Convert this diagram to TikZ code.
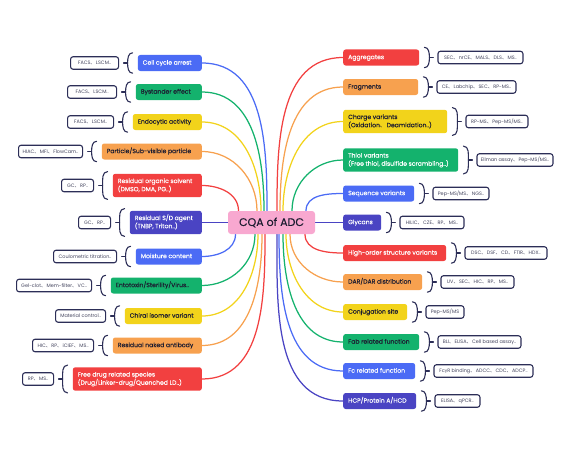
\documentclass[tikz,border=0pt]{standalone}
\usepackage{fontspec}
\setmainfont{Poppins}
\newfontfamily\medf{Poppins}[FakeBold=0.2]
\newfontfamily\cjkf{Noto Sans CJK SC}
\newfontfamily\gkf{Lato}
\usetikzlibrary{backgrounds}
\definecolor{cblue}{HTML}{4B6BF5}
\definecolor{cgreen}{HTML}{14B26D}
\definecolor{cyellow}{HTML}{F2D31B}
\definecolor{corange}{HTML}{F7A14F}
\definecolor{cred}{HTML}{F24040}
\definecolor{cindigo}{HTML}{4A44C3}
\definecolor{cpink}{HTML}{F8A8D0}
\definecolor{cnavy}{HTML}{2C2E57}
\definecolor{cdark}{HTML}{1C1C30}
\definecolor{clbl}{HTML}{45465F}
\newcommand\dn{{\cjkf 、}\hspace{0.6pt}}
\newcommand\itemtext[2]{\makebox[\dimexpr#1pt-10pt\relax][l]{\begin{tabular}{@{}l@{}}#2\end{tabular}}}
\tikzset{
  item/.style={rounded corners=2.5pt, inner xsep=5pt, inner ysep=3.5pt, minimum height=16pt,
    font=\medf\fontsize{6.1}{8.2}\selectfont},
  lbl/.style={draw=cnavy, line width=1.1pt, rounded corners=2.5pt, fill=white, text=clbl,
    inner xsep=2pt, inner ysep=1pt, minimum height=12.5pt, font=\fontsize{4.9}{5.5}\selectfont},
  brk/.style={draw=cnavy, line width=1.1pt, line cap=round},
  conn/.style={line width=1.25pt},
}
% name, y, width, fill, text colour, text, label, label width
\newcommand\leftitem[8]{%
  \node[item, fill=#4, text=#5, anchor=east] (#1) at (202,#2) {\itemtext{#3}{#6}};
  \coordinate (#1b) at ([xshift=-10pt]#1.west);
  \draw[brk] ([xshift=-5pt,yshift=2pt]#1.north west) to[out=180,in=90] (#1b)
    to[out=-90,in=180] ([xshift=-5pt,yshift=-2pt]#1.south west);
  \node[lbl, minimum width=#8pt, anchor=east] (#1l) at ([xshift=-18.5pt]#1.west) {#7};
  \draw[brk, shorten >=4.5pt] (#1b) -- (#1l.east);
}
\newcommand\rightitem[8]{%
  \node[item, fill=#4, text=#5, anchor=west] (#1) at (343,#2) {\itemtext{#3}{#6}};
  \coordinate (#1b) at ([xshift=10pt]#1.east);
  \draw[brk] ([xshift=5pt,yshift=2pt]#1.north east) to[out=0,in=90] (#1b)
    to[out=-90,in=0] ([xshift=5pt,yshift=-2pt]#1.south east);
  \node[lbl, minimum width=#8pt, anchor=west] (#1l) at ([xshift=18pt]#1.east) {#7};
  \draw[brk, shorten >=4pt] (#1b) -- (#1l.west);
}
\begin{document}
\begin{tikzpicture}[x=1pt,y=-1pt]
\useasboundingbox (0,0) rectangle (564,452);

\node[fill=cpink, rounded corners=3pt, minimum width=87pt, minimum height=23pt,
  font=\medf\fontsize{11}{13}\selectfont, text=cdark] (c) at (271.5,222.5) {CQA of ADC};

\leftitem{cca}{63}{64}{cblue}{white}{Cell cycle arrest}{FACS\dn LSCM..}{48}
\leftitem{bys}{92}{66}{cgreen}{cdark}{Bystander effect}{FACS\dn LSCM..}{49}
\leftitem{endo}{122}{69}{cyellow}{cdark}{Endocytic activity}{FACS\dn LSCM..}{46}
\leftitem{part}{151.5}{100}{corange}{cdark}{Particle/Sub-visible particle}{HIAC\dn MFI\dn FlowCam..}{64}
\leftitem{ros}{185.5}{89}{cred}{white}{Residual organic solvent\\(DMSO, DMA, PG..)}{GC\dn RP..}{32}
\leftitem{rsd}{222.5}{72}{cindigo}{white}{Residual S/D agent\\(TNBP, Triton..)}{GC\dn RP..}{32}
\leftitem{moi}{256.5}{66}{cblue}{white}{Moisture content}{Coulometric titration..}{63}
\leftitem{ent}{285.5}{91}{cgreen}{cdark}{Entotoxin/Sterility/Virus..}{Gel-clot\dn Mem-filter\dn VC..}{75}
\leftitem{chi}{316}{77}{cyellow}{cdark}{Chiral isomer variant}{Material control..}{50}
\leftitem{rna}{345.5}{89}{corange}{cdark}{Residual naked antibody}{HIC\dn RP\dn iCIEF\dn MS..}{61}
\leftitem{fdr}{379}{129}{cred}{white}{Free drug related species\\(Drug/Linker-drug/Quenched LD..)}{RP\dn MS..}{31}

\rightitem{agg}{57.5}{76}{cred}{white}{Aggregates}{SEC\dn nrCE\dn MALS\dn DLS\dn MS..}{85}
\rightitem{frag}{87}{75}{corange}{cdark}{Fragments}{CE\dn Labchip\dn SEC\dn RP-MS..}{79}
\rightitem{chg}{121.5}{104}{cyellow}{cdark}{Charge variants\\(Oxidation\dn Deamidation..)}{RP-MS\dn Pep-MS/MS..}{62}
\rightitem{thi}{160}{115}{cgreen}{white}{Thiol variants\\(Free thiol, disulfide scrambling..)}{Ellman assay\dn Pep-MS/MS..}{76}
\rightitem{seq}{193.5}{71}{cblue}{white}{Sequence variants}{Pep-MS/MS\dn NGS..}{56}
\rightitem{gly}{222.5}{38}{cindigo}{white}{Glycans}{HILIC\dn CZE\dn RP\dn MS..}{64}
\rightitem{hos}{253}{103}{cred}{white}{High-order structure variants}{DSC\dn DSF\dn CD\dn FTIR\dn HDX..}{82}
\rightitem{dar}{282}{79}{corange}{cdark}{DAR/DAR distribution}{UV\dn SEC\dn HIC\dn RP\dn MS..}{73}
\rightitem{con}{312}{64}{cyellow}{cdark}{Conjugation site}{Pep-MS/MS}{38}
\rightitem{fab}{342}{76}{cgreen}{cdark}{Fab related function}{BLI\dn ELISA\dn Cell based assay..}{83}
\rightitem{fc}{371}{72}{cblue}{white}{Fc related function}{Fc{\gkf γ}R binding\dn ADCC\dn CDC\dn ADCP..}{99}
\rightitem{hcp}{401}{73}{cindigo}{white}{HCP/Protein A/HCD}{ELISA\dn qPCR..}{45}

\begin{pgfonlayer}{background}
% left, into top
\draw[conn, cblue]   (cca.east)  to[out=0,in=90] ([xshift=-4.5pt]c.north);
\draw[conn, cgreen]  (bys.east)  to[out=0,in=90] ([xshift=-7.5pt]c.north);
\draw[conn, cyellow] (endo.east) to[out=0,in=90] ([xshift=-10.5pt]c.north);
\draw[conn, corange] (part.east) to[out=0,in=90] ([xshift=-14.5pt]c.north);
\draw[conn, cred]    (ros.east)  to[out=0,in=90] ([xshift=-33pt]c.north);
\draw[conn, cindigo] (rsd.east) -- (c.west);
% left, into bottom
\draw[conn, cblue]   (moi.east)  to[out=0,in=-90] ([xshift=-36pt]c.south);
\draw[conn, cgreen]  (ent.east)  to[out=0,in=-90] ([xshift=-16.5pt]c.south);
\draw[conn, cyellow] (chi.east)  to[out=0,in=-90] ([xshift=-13.5pt]c.south);
\draw[conn, corange] (rna.east)  to[out=0,in=-90] ([xshift=-9.5pt]c.south);
\draw[conn, cred]    (fdr.east)  to[out=0,in=-90] ([xshift=-6.5pt]c.south);
% right, into top
\draw[conn, cred]    (agg.west)  to[out=180,in=90] ([xshift=5.5pt]c.north);
\draw[conn, corange] (frag.west) to[out=180,in=90] ([xshift=8.5pt]c.north);
\draw[conn, cyellow] (chg.west)  to[out=180,in=90] ([xshift=11.5pt]c.north);
\draw[conn, cgreen]  (thi.west)  to[out=180,in=90] ([xshift=20.5pt]c.north);
\draw[conn, cblue]   (seq.west)  to[out=180,in=90] ([xshift=34.5pt]c.north);
\draw[conn, cindigo] (gly.west) -- (c.east);
% right, into bottom
\draw[conn, cred]    (hos.west)  to[out=180,in=-90] ([xshift=33.5pt]c.south);
\draw[conn, corange] (dar.west)  to[out=180,in=-90] ([xshift=18.5pt]c.south);
\draw[conn, cyellow] (con.west)  to[out=180,in=-90] ([xshift=14.5pt]c.south);
\draw[conn, cgreen]  (fab.west)  to[out=180,in=-90] ([xshift=11.5pt]c.south);
\draw[conn, cblue]   (fc.west)   to[out=180,in=-90] ([xshift=7.5pt]c.south);
\draw[conn, cindigo] (hcp.west)  to[out=180,in=-90] ([xshift=5.5pt]c.south);
\end{pgfonlayer}
\end{tikzpicture}
\end{document}
